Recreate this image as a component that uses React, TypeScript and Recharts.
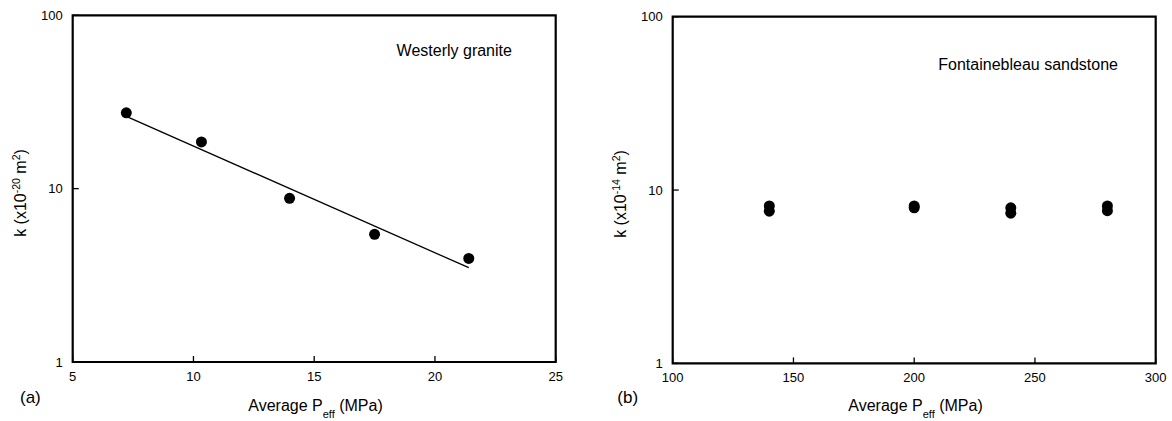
import React from "react";
import { ScatterChart, Scatter, XAxis, YAxis, ReferenceArea } from "recharts";

// Panel (a): Westerly granite
const graniteP = [7.22, 10.33, 13.98, 17.5, 21.4];
const graniteK = [27.4, 18.6, 8.8, 5.45, 3.96];
const fitP = [7.22, 21.4];
const fitK = [26.1, 3.5];
const graniteTicks = [5, 10, 15, 20, 25];

// Panel (b): Fontainebleau sandstone
const sandP = [140, 140, 200, 200, 240, 240, 280, 280];
const sandK = [8.1, 7.55, 8.1, 7.9, 7.9, 7.35, 8.1, 7.6];
const sandTicks = [100, 150, 200, 250, 300];

const kTicks = [1, 10, 100];

const FONT = "'Liberation Sans', Arial, Helvetica, sans-serif";

const zip = (xs: number[], ys: number[]) => xs.map((x, i) => ({ x, k: ys[i] }));

const Dot = (p: any) => <circle cx={p.cx} cy={p.cy} r={5.5} fill="#000" />;
const NoShape = () => null;

const XTick = (p: any) => {
  const M = 14;
  return (
    <g>
      <line x1={p.x} x2={p.x} y1={p.y - M} y2={p.y - M - 6} stroke="#000" strokeWidth={1.3} />
      <text x={p.x} y={p.y} dy="0.35em" textAnchor="middle" fontSize={13} fontFamily={FONT} fill="#000">
        {p.payload.value}
      </text>
    </g>
  );
};

const YTick = (p: any) => {
  const M = 10;
  return (
    <g>
      <line x1={p.x + M} x2={p.x + M + 6} y1={p.y} y2={p.y} stroke="#000" strokeWidth={1.3} />
      <text x={p.x} y={p.y} dy="0.35em" textAnchor="end" fontSize={13} fontFamily={FONT} fill="#000">
        {p.payload.value}
      </text>
    </g>
  );
};

type PanelProps = {
  left: number;
  width: number;
  top: number;
  yW: number;
  xDomain: [number, number];
  xTicks: number[];
  children: React.ReactNode;
};

const W = 1172;
const H = 421;
const PLOT_W = 483;
const PLOT_H = 346.7;

const Panel = ({ left, width, top, yW, xDomain, xTicks, children }: PanelProps) => (
  <div style={{ position: "absolute", left, top: 0 }}>
    <ScatterChart
      width={width}
      height={H}
      margin={{ top, left: 0, right: width - yW - PLOT_W, bottom: 0 }}
    >
      <XAxis
        type="number"
        dataKey="x"
        domain={xDomain}
        ticks={xTicks}
        allowDataOverflow
        height={H - top - PLOT_H}
        axisLine={false}
        tickLine={false}
        tickSize={0}
        tickMargin={14}
        tick={<XTick />}
        interval={0}
      />
      <YAxis
        type="number"
        dataKey="k"
        scale="log"
        domain={[1, 100]}
        ticks={kTicks}
        allowDataOverflow
        width={yW}
        axisLine={false}
        tickLine={false}
        tickSize={0}
        tickMargin={10}
        tick={<YTick />}
        interval={0}
      />
      <ReferenceArea
        x1={xDomain[0]}
        x2={xDomain[1]}
        y1={1}
        y2={100}
        fill="none"
        fillOpacity={0}
        stroke="#000"
        strokeWidth={2.2}
        ifOverflow="visible"
      />
      {children}
    </ScatterChart>
  </div>
);

const YTitle = ({ x, y, exp }: { x: number; y: number; exp: string }) => (
  <text
    x={x}
    y={y}
    transform={`rotate(-90 ${x} ${y})`}
    textAnchor="middle"
    fontSize={16}
    fontFamily={FONT}
    fill="#000"
  >
    k (x10
    <tspan dy={-6.5} fontSize={10.5}>{exp}</tspan>
    <tspan dy={6.5}> m</tspan>
    <tspan dy={-6.5} fontSize={10.5}>2</tspan>
    <tspan dy={6.5}>)</tspan>
  </text>
);

const XTitle = ({ x, y }: { x: number; y: number }) => (
  <text x={x} y={y} textAnchor="middle" fontSize={16} fontFamily={FONT} fill="#000">
    Average P
    <tspan dy={7} fontSize={11}>eff</tspan>
    <tspan dy={-7}> (MPa)</tspan>
  </text>
);

export default function App() {
  const granite = zip(graniteP, graniteK);
  const fit = zip(fitP, fitK);
  const sand = zip(sandP, sandK);
  return (
    <>
      <style>{"html,body{margin:0;padding:0;overflow:hidden;}"}</style>
      <div
        style={{
          position: "relative",
          width: W,
          height: H,
          overflow: "hidden",
          background: "#fff",
          fontFamily: FONT,
        }}
      >
        <Panel left={8} width={586} top={15.3} yW={64.7} xDomain={[5, 25]} xTicks={graniteTicks}>
          <Scatter
            data={fit}
            line={{ stroke: "#000", strokeWidth: 1.3 }}
            shape={<NoShape />}
            isAnimationActive={false}
          />
          <Scatter data={granite} shape={<Dot />} isAnimationActive={false} />
        </Panel>
        <Panel left={594} width={578} top={16.7} yW={78.7} xDomain={[100, 300]} xTicks={sandTicks}>
          <Scatter data={sand} shape={<Dot />} isAnimationActive={false} />
        </Panel>
        <svg width={W} height={H} style={{ position: "absolute", left: 0, top: 0, pointerEvents: "none" }}>
          <text x={396.6} y={55.7} fontSize={16} fontFamily={FONT} fill="#000">
            Westerly granite
          </text>
          <text x={938.3} y={70.1} fontSize={16} fontFamily={FONT} fill="#000">
            Fontainebleau sandstone
          </text>
          <text x={20} y={403} fontSize={17} fontFamily={FONT} fill="#000">
            (a)
          </text>
          <text x={617.3} y={402.7} fontSize={17} fontFamily={FONT} fill="#000">
            (b)
          </text>
          <XTitle x={315.5} y={411} />
          <XTitle x={915.5} y={411} />
          <YTitle x={26} y={193} exp="-20" />
          <YTitle x={626} y={194} exp="-14" />
        </svg>
      </div>
    </>
  );
}
